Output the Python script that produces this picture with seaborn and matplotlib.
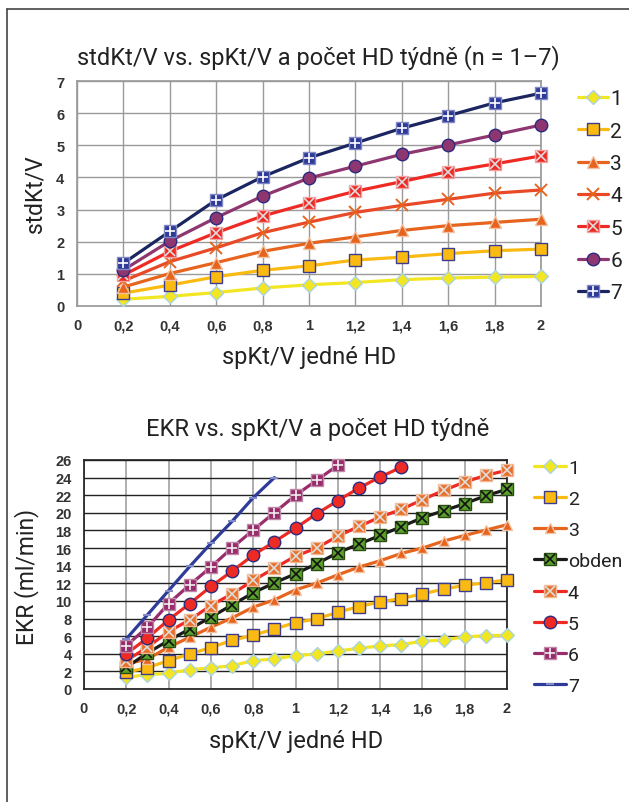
import numpy as np
import pandas as pd
import matplotlib
matplotlib.use("Agg")
import matplotlib.pyplot as plt
import seaborn as sns
from matplotlib.lines import Line2D
from matplotlib.legend_handler import HandlerTuple
from matplotlib.ticker import FuncFormatter

# --- data: top chart (stdKt/V vs spKt/V) ---
sp_top = [0.2, 0.4, 0.6, 0.8, 1.0, 1.2, 1.4, 1.6, 1.8, 2.0]
std_1 = [0.21, 0.30, 0.42, 0.56, 0.66, 0.73, 0.82, 0.87, 0.90, 0.92]
std_2 = [0.40, 0.65, 0.91, 1.11, 1.25, 1.43, 1.52, 1.63, 1.72, 1.77]
std_3 = [0.59, 1.01, 1.35, 1.70, 1.95, 2.15, 2.35, 2.50, 2.60, 2.70]
std_4 = [0.78, 1.38, 1.81, 2.28, 2.61, 2.91, 3.13, 3.32, 3.51, 3.61]
std_5 = [0.96, 1.70, 2.28, 2.80, 3.20, 3.57, 3.87, 4.18, 4.42, 4.67]
std_6 = [1.12, 2.02, 2.75, 3.42, 3.98, 4.35, 4.72, 5.01, 5.32, 5.63]
std_7 = [1.33, 2.32, 3.30, 4.02, 4.61, 5.07, 5.53, 5.92, 6.32, 6.62]
top_labels = ["1", "2", "3", "4", "5", "6", "7"]

# --- data: bottom chart (EKR vs spKt/V) ---
sp_ekr = [0.2, 0.3, 0.4, 0.5, 0.6, 0.7, 0.8, 0.9, 1.0, 1.1,
          1.2, 1.3, 1.4, 1.5, 1.6, 1.7, 1.8, 1.9, 2.0]
ekr_1 = [1.33, 1.63, 1.78, 2.20, 2.39, 2.65, 3.22, 3.41, 3.79, 3.98,
         4.32, 4.62, 4.89, 5.04, 5.42, 5.57, 5.91, 6.07, 6.10]
ekr_2 = [1.90, 2.43, 3.22, 3.98, 4.70, 5.53, 6.10, 6.82, 7.54, 7.96,
         8.72, 9.36, 9.89, 10.27, 10.80, 11.33, 11.79, 12.05, 12.40]
ekr_3 = [2.84, 3.41, 4.74, 5.88, 7.01, 8.07, 9.29, 10.12, 11.26, 12.02,
         12.96, 13.84, 14.56, 15.39, 16.00, 16.79, 17.44, 18.04, 18.65]
ekr_obden = [2.46, 4.09, 5.50, 6.82, 8.15, 9.55, 10.92, 12.05, 13.08, 14.22,
             15.47, 16.45, 17.44, 18.42, 19.45, 20.24, 21.04, 21.95, 22.67]
ekr_4 = [3.22, 4.74, 6.52, 7.85, 9.48, 10.80, 12.32, 13.72, 15.09, 16.00,
         17.36, 18.46, 19.52, 20.39, 21.49, 22.55, 23.50, 24.26, 24.83]
ekr_5 = [3.98, 5.80, 7.85, 9.70, 11.64, 13.38, 15.20, 16.72, 18.27, 19.90,
         21.38, 22.82, 24.07, 25.17]
ekr_6 = [4.93, 7.01, 9.70, 11.83, 13.84, 16.03, 18.04, 20.02, 21.99, 23.69, 25.40]
ekr_7 = [5.69, 8.42, 11.18, 13.91, 16.53, 19.03, 21.72, 24.00]
ekr_labels = ["1", "2", "3", "obden", "4", "5", "6", "7"]

sns.set_theme(style="white")
plt.rcParams['font.family'] = ['Roboto', 'DejaVu Sans']

fig = plt.figure(figsize=(6.29, 8.03), dpi=100)

# page frame (left + top edges)
fig.add_artist(Line2D([7/629, 7/629], [0, 1 - 10/803], color="#444444", lw=1.2))
fig.add_artist(Line2D([7/629, 1], [1 - 10/803, 1 - 10/803], color="#444444", lw=1.2))

comma = FuncFormatter(lambda v, p: ("%g" % v).replace(".", ","))
tick_font = dict(family=['Liberation Sans', 'DejaVu Sans'], weight="bold", size=10.5)


def draw(ax, xs, ys, style, zorder):
    df = pd.DataFrame({"x": xs[:len(ys)], "y": ys})
    sns.lineplot(data=df, x="x", y="y", ax=ax, color=style["lc"], linewidth=2.3,
                 marker=style["m"], markersize=style["ms"],
                 markerfacecolor=style["mfc"], markeredgecolor=style["mec"],
                 markeredgewidth=style.get("mew", 1.0), clip_on=False, zorder=zorder)
    h = [Line2D([], [], color=style["lc"], lw=2.3, marker=style["m"], ms=style["ms"],
                mfc=style["mfc"], mec=style["mec"], mew=style.get("mew", 1.0))]
    if "ov" in style:
        ax.plot(df["x"], df["y"], linestyle="none", marker=style["ov"], ms=style["ms"] * 0.75,
                color=style["ovc"], mew=1.2, clip_on=False, zorder=zorder + 0.5)
        h.append(Line2D([], [], linestyle="none", marker=style["ov"], ms=style["ms"] * 0.75,
                        color=style["ovc"], mew=1.2))
    return tuple(h)


def style_axes(ax, ymax, ystep):
    ax.set_xlim(0, 2)
    ax.set_ylim(0, ymax)
    ax.set_xticks(np.arange(0, 2.01, 0.2))
    ax.set_yticks(range(0, ymax + 1, ystep))
    ax.xaxis.set_major_formatter(comma)
    ax.tick_params(length=0, pad=9, labelcolor="#333333")
    for t in ax.get_xticklabels() + ax.get_yticklabels():
        t.set(**tick_font)
    ax.set_xlabel("")
    ax.set_ylabel("")


# ---------- top chart ----------
ax1 = fig.add_axes([77/629, 1 - 307/803, 464/629, 225/803])
top_styles = [
    dict(lc="#f2e622", m="D", ms=7, mfc="#f2e622", mec="#a9d3e3"),
    dict(lc="#fbba12", m="s", ms=9, mfc="#fbba12", mec="#3b3b8f"),
    dict(lc="#e6641e", m="^", ms=8, mfc="#e6641e", mec="#f2c2a2"),
    dict(lc="#e84a28", m="x", ms=9, mfc="#e6641e", mec="#e6641e", mew=1.4),
    dict(lc="#ee2a24", m="s", ms=9, mfc="#ee2a24", mec="#f2a0a0", ov="x", ovc="#dddddd"),
    dict(lc="#8d3670", m="o", ms=9, mfc="#8d3670", mec="#2b2b80"),
    dict(lc="#1b2660", m="s", ms=9, mfc="#2e3b99", mec="#8088c6", ov="+", ovc="#ffffff"),
]
top_series = [std_1, std_2, std_3, std_4, std_5, std_6, std_7]
handles = []
for i, (ys, st) in enumerate(zip(top_series, top_styles)):
    handles.append(draw(ax1, sp_top, ys, st, 3 + i))

style_axes(ax1, 7, 1)
ax1.grid(True, color="#9a9a9a", lw=1.0)
for s in ax1.spines.values():
    s.set_color("#9a9a9a")
ax1.legend(handles, top_labels, handler_map={tuple: HandlerTuple(ndivide=1)},
           loc="upper left", bbox_to_anchor=(1.062, 1.0), frameon=False, fontsize=15,
           labelspacing=0.64, handlelength=1.45, handletextpad=0.1, borderaxespad=0,
           labelcolor="#222222")

fig.text(318/629, 1 - 58/803, "stdKt/V vs. spKt/V a počet HD týdně (n = 1–7)",
         ha="center", va="center", fontsize=17, color="#222222")
fig.text(35/629, 1 - 194/803, "stdKt/V", ha="center", va="center", rotation=90,
         fontsize=16.5, color="#222222")
fig.text(309/629, 1 - 358/803, "spKt/V jedné HD", ha="center", va="center",
         fontsize=17, color="#222222")

# ---------- bottom chart ----------
ax2 = fig.add_axes([84/629, 1 - 690/803, 423/629, 229/803])
ekr_styles = [
    dict(lc="#f2e622", m="D", ms=7, mfc="#f2e622", mec="#a9d3e3"),
    dict(lc="#fbba12", m="s", ms=9, mfc="#fbba12", mec="#3b3b8f"),
    dict(lc="#e6641e", m="^", ms=7.5, mfc="#e6641e", mec="#f2c2a2"),
    dict(lc="#1a1a1a", m="s", ms=9, mfc="#5aa02c", mec="#2d4d14", ov="x", ovc="#111111"),
    dict(lc="#ee2a24", m="s", ms=9, mfc="#e8702a", mec="#f2b894", ov="x", ovc="#dddddd"),
    dict(lc="#ee2a24", m="o", ms=9, mfc="#ee2a24", mec="#2b2b80"),
    dict(lc="#992d6c", m="s", ms=9, mfc="#992d6c", mec="#c088a8", ov="+", ovc="#eeeeee"),
    dict(lc="#2e3b99", m="_", ms=6, mfc="#8088c8", mec="#8088c8", mew=1.5),
]
ekr_series = [ekr_1, ekr_2, ekr_3, ekr_obden, ekr_4, ekr_5, ekr_6, ekr_7]
handles2 = []
for i, (ys, st) in enumerate(zip(ekr_series, ekr_styles)):
    handles2.append(draw(ax2, sp_ekr, ys, st, 3 + i))

style_axes(ax2, 26, 2)
ax2.yaxis.grid(True, color="#222222", lw=1.0)
ax2.xaxis.grid(True, color="#a8a8a8", lw=1.3)
for s in ax2.spines.values():
    s.set_color("#222222")
ax2.legend(handles2, ekr_labels, handler_map={tuple: HandlerTuple(ndivide=1)},
           loc="upper left", bbox_to_anchor=(1.045, 1.04), frameon=False, fontsize=14,
           labelspacing=0.68, handlelength=1.65, handletextpad=0.1, borderaxespad=0,
           labelcolor="#222222")

fig.text(318/629, 1 - 430/803, "EKR vs. spKt/V a počet HD týdně",
         ha="center", va="center", fontsize=17, color="#222222")
fig.text(27/629, 1 - 577/803, "EKR (ml/min)", ha="center", va="center", rotation=90,
         fontsize=16.5, color="#222222")
fig.text(296/629, 1 - 742/803, "spKt/V jedné HD", ha="center", va="center",
         fontsize=17, color="#222222")

fig.savefig("out.png", dpi=100)
